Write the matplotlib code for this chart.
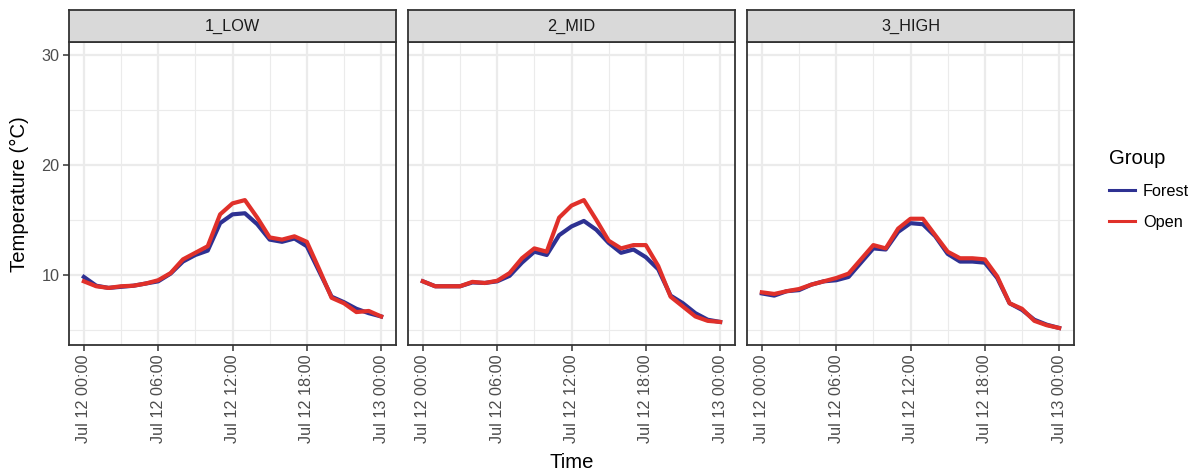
import numpy as np
import pandas as pd
import matplotlib
matplotlib.use("Agg")
import matplotlib.pyplot as plt
import matplotlib.dates as mdates
from matplotlib.lines import Line2D
from matplotlib.ticker import MultipleLocator

plt.rcParams['font.family'] = ['Liberation Sans', 'DejaVu Sans']

times = pd.date_range('2021-07-12 00:00', '2021-07-13 00:00', freq='h')
panels = ['1_LOW', '2_MID', '3_HIGH']

forest_low = [9.8, 9.0, 8.8, 8.9, 9.0, 9.2, 9.4, 10.1, 11.2, 11.8, 12.2, 14.7, 15.5,
              15.6, 14.6, 13.2, 13.0, 13.3, 12.6, 10.3, 8.0, 7.5, 6.9, 6.5, 6.2]
open_low = [9.4, 8.95, 8.8, 8.95, 9.0, 9.2, 9.5, 10.15, 11.4, 12.0, 12.6, 15.5, 16.5,
            16.8, 15.2, 13.4, 13.2, 13.5, 13.0, 10.5, 7.9, 7.4, 6.6, 6.7, 6.2]
forest_mid = [9.4, 8.95, 8.95, 8.95, 9.3, 9.25, 9.4, 9.9, 11.1, 12.1, 11.8, 13.6, 14.4,
              14.9, 14.1, 12.9, 12.0, 12.3, 11.6, 10.5, 8.1, 7.4, 6.5, 5.9, 5.7]
open_mid = [9.4, 8.95, 8.95, 8.95, 9.35, 9.25, 9.45, 10.15, 11.5, 12.4, 12.1, 15.2, 16.3,
            16.8, 15.0, 13.1, 12.4, 12.7, 12.7, 10.8, 8.0, 7.1, 6.2, 5.8, 5.7]
forest_high = [8.3, 8.1, 8.5, 8.6, 9.1, 9.4, 9.5, 9.8, 11.1, 12.4, 12.3, 13.9, 14.7,
               14.6, 13.5, 11.9, 11.2, 11.2, 11.1, 9.7, 7.4, 6.8, 5.9, 5.45, 5.15]
open_high = [8.4, 8.25, 8.5, 8.7, 9.1, 9.4, 9.7, 10.1, 11.4, 12.7, 12.4, 14.2, 15.1,
             15.1, 13.6, 12.1, 11.5, 11.5, 11.4, 9.85, 7.4, 6.9, 5.8, 5.4, 5.15]

forest = [forest_low, forest_mid, forest_high]
opn = [open_low, open_mid, open_high]

c_forest = '#2E3192'
c_open = '#E0302A'
grid_c = '#EBEBEB'
txt_c = '#4D4D4D'
small = 11.7
big = 14.6

fig = plt.figure(figsize=(12, 4.72), dpi=100)
W, H = 1200, 472
lefts = [69, 408, 747]
pw = 327
top, bottom = 42, 345
strip_h = 32

t0 = mdates.date2num(times[0])
t1 = mdates.date2num(times[-1])
pad = (t1 - t0) * 0.05

for i, name in enumerate(panels):
    ax = fig.add_axes([lefts[i] / W, 1 - bottom / H, pw / W, (bottom - top) / H])
    ax.plot(times, forest[i], color=c_forest, lw=3.0, zorder=3)
    ax.plot(times, opn[i], color=c_open, lw=3.0, zorder=4)
    ax.set_xlim(t0 - pad, t1 + pad)
    ax.set_ylim(3.6, 31.2)
    ax.yaxis.set_major_locator(MultipleLocator(10))
    ax.yaxis.set_minor_locator(MultipleLocator(5))
    ax.xaxis.set_major_locator(mdates.HourLocator(byhour=[0, 6, 12, 18]))
    ax.xaxis.set_minor_locator(mdates.HourLocator(byhour=[3, 9, 15, 21]))
    ax.xaxis.set_major_formatter(mdates.DateFormatter('%b %d %H:%M'))
    ax.grid(which='major', color=grid_c, lw=1.6, zorder=0)
    ax.grid(which='minor', color=grid_c, lw=0.8, zorder=0)
    ax.set_axisbelow(True)
    ax.tick_params(axis='x', which='major', labelrotation=90, labelsize=small,
                   colors='#333333', labelcolor=txt_c, length=4, width=1.1, pad=3)
    ax.tick_params(axis='y', which='major', labelsize=small, colors='#333333',
                   labelcolor=txt_c, length=4, width=1.1, pad=3)
    ax.tick_params(which='minor', length=0)
    for s in ax.spines.values():
        s.set_color('#333333')
        s.set_linewidth(1.3)
    if i > 0:
        ax.tick_params(axis='y', labelleft=False, length=0)
    # facet strip
    sax = fig.add_axes([lefts[i] / W, 1 - top / H, pw / W, strip_h / H])
    sax.set_facecolor('#D9D9D9')
    sax.set_xticks([])
    sax.set_yticks([])
    for s in sax.spines.values():
        s.set_color('#333333')
        s.set_linewidth(1.3)
    sax.text(0.5, 0.5, name, ha='center', va='center', fontsize=small, color='#1A1A1A',
             transform=sax.transAxes)

fig.text((lefts[0] + lefts[2] + pw) / 2 / W, 1 - 462 / H, 'Time', ha='center',
         va='center', fontsize=big)
fig.text(19 / W, 1 - 194 / H, 'Temperature (°C)', ha='center', va='center',
         rotation=90, fontsize=big)

handles = [Line2D([], [], color=c_forest, lw=2.2), Line2D([], [], color=c_open, lw=2.2)]
leg = fig.legend(handles, ['Forest', 'Open'], title='Group', loc='upper left',
                 bbox_to_anchor=(1094 / W, 1 - 134 / H), frameon=False, fontsize=small,
                 title_fontsize=big, handlelength=1.6, handletextpad=0.5,
                 labelspacing=1.0)
leg._legend_box.align = 'left'

fig.savefig('out.png', dpi=100)
